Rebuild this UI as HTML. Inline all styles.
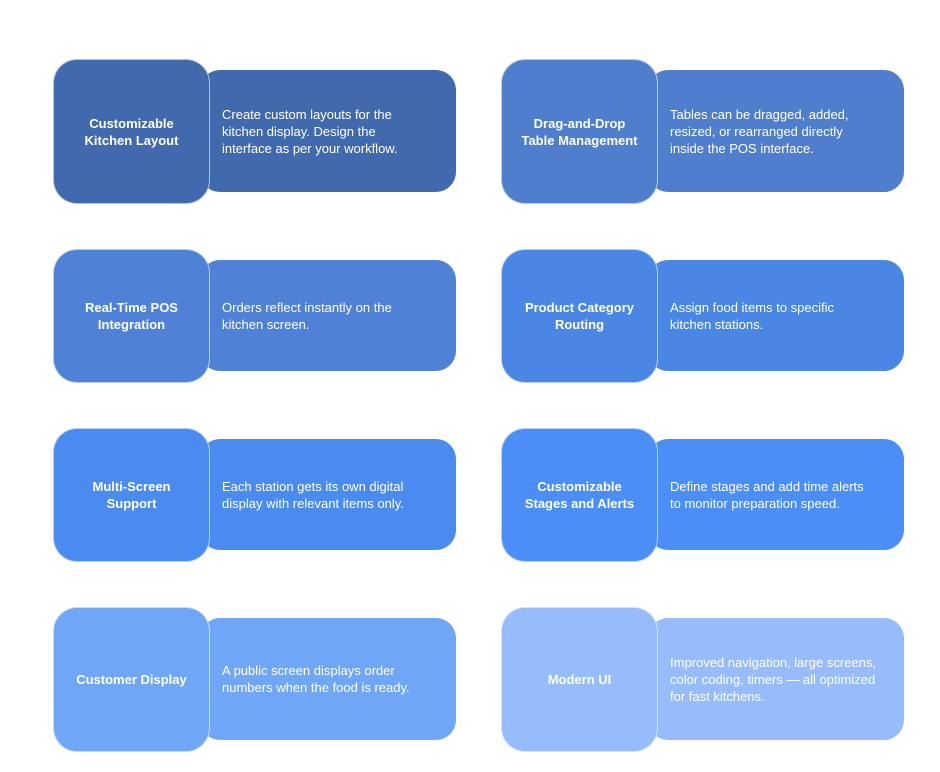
<!DOCTYPE html>
<html><head><style>
body{margin:0;width:940px;height:772px;background:#fff;position:relative;font-family:"Liberation Sans",Arial,sans-serif;color:#fff;overflow:hidden}
.r,.s{position:absolute;display:flex;align-items:center;box-sizing:border-box}
.r{border-radius:20px;padding-left:22px;font-size:13px;line-height:17px}
.s{border-radius:24px;border:1px solid rgba(255,255,255,.6);justify-content:center;text-align:center;font-weight:bold;font-size:13px;line-height:17px}
</style></head><body>
<div class="r" style="left:200px;top:70px;width:256px;height:122px;background:#4169AD">Create custom layouts for the<br>kitchen display. Design the<br>interface as per your workflow.</div>
<div class="s" style="left:53px;top:59px;width:157px;height:145px;background:#4169AD">Customizable<br>Kitchen Layout</div>
<div class="r" style="left:648px;top:70px;width:256px;height:122px;background:#4F7FCC">Tables can be dragged, added,<br>resized, or rearranged directly<br>inside the POS interface.</div>
<div class="s" style="left:501px;top:59px;width:157px;height:145px;background:#4F7FCC">Drag-and-Drop<br>Table Management</div>

<div class="r" style="left:200px;top:260px;width:256px;height:111px;background:#4F82D6">Orders reflect instantly on the<br>kitchen screen.</div>
<div class="s" style="left:53px;top:249px;width:157px;height:134px;background:#4F82D6">Real-Time POS<br>Integration</div>
<div class="r" style="left:648px;top:260px;width:256px;height:111px;background:#4A86E4">Assign food items to specific<br>kitchen stations.</div>
<div class="s" style="left:501px;top:249px;width:157px;height:134px;background:#4A86E4">Product Category<br>Routing</div>

<div class="r" style="left:200px;top:439px;width:256px;height:111px;background:#4A8BEF">Each station gets its own digital<br>display with relevant items only.</div>
<div class="s" style="left:53px;top:428px;width:157px;height:134px;background:#4A8BEF">Multi-Screen<br>Support</div>
<div class="r" style="left:648px;top:439px;width:256px;height:111px;background:#4B8EF7">Define stages and add time alerts<br>to monitor preparation speed.</div>
<div class="s" style="left:501px;top:428px;width:157px;height:134px;background:#4B8EF7">Customizable<br>Stages and Alerts</div>

<div class="r" style="left:200px;top:618px;width:256px;height:122px;background:#70A6F6">A public screen displays order<br>numbers when the food is ready.</div>
<div class="s" style="left:53px;top:607px;width:157px;height:145px;background:#70A6F6">Customer Display</div>
<div class="r" style="left:648px;top:618px;width:256px;height:122px;background:#96BCFB">Improved navigation, large screens,<br>color coding, timers — all optimized<br>for fast kitchens.</div>
<div class="s" style="left:501px;top:607px;width:157px;height:145px;background:#96BCFB">Modern UI</div>
</body></html>
